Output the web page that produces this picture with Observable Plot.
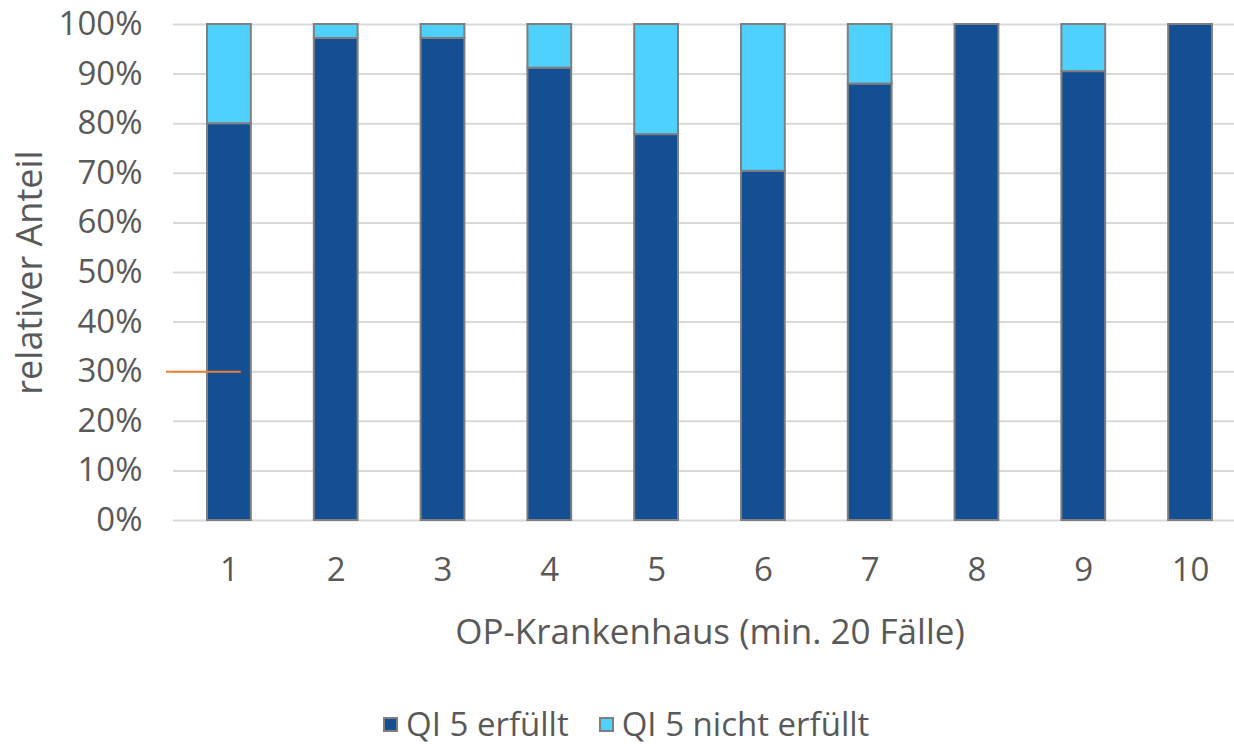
<!DOCTYPE html>
<html>
<head>
<meta charset="utf-8">
<script src="https://cdn.jsdelivr.net/npm/d3@7"></script>
<script src="https://cdn.jsdelivr.net/npm/@observablehq/plot@0.6"></script>
<style>
  body { margin: 0; background: #fff; font-family: "Open Sans", sans-serif; overflow: hidden; }
  #legend { position: absolute; left: 383px; top: 706px; height: 36px; display: flex; align-items: center; font-size: 33px; line-height: 36px; color: #595959; }
  .sw { width: 11px; height: 11px; border: 2px solid #7f7f7f; margin-right: 8px; }
  .item { display: flex; align-items: center; margin-right: 30px; }
</style>
</head>
<body>
<div id="chart"></div>
<div id="legend"></div>
<script>
const hospitals = ["1","2","3","4","5","6","7","8","9","10"];
const erfuellt = [80.0, 97.2, 97.2, 91.2, 77.8, 70.4, 88.0, 100, 90.5, 100];
const nichtErfuellt = erfuellt.map(v => +(100 - v).toFixed(1));
const seriesNames = ["QI 5 erfüllt", "QI 5 nicht erfüllt"];
const seriesColors = ["#144f93", "#4fd1ff"];
const yTicks = [0,10,20,30,40,50,60,70,80,90,100];
const refLine = [{h: "1", y: 30}];

const rows = [];
hospitals.forEach((h, i) => {
  rows.push({h, s: seriesNames[0], v: erfuellt[i]});
  rows.push({h, s: seriesNames[1], v: nichtErfuellt[i]});
});

const textColor = "#595959";
const fs = 33;

const chart = Plot.plot({
  width: 1234,
  height: 700,
  marginLeft: 175,
  marginRight: -10,
  marginTop: 24,
  marginBottom: 180,
  style: {fontFamily: "'Open Sans', sans-serif", fontSize: fs + "px", color: textColor, background: "#fff", overflow: "visible"},
  x: {domain: hospitals, paddingInner: 0.59, paddingOuter: 0.3, round: false},
  y: {domain: [0, 100]},
  color: {domain: seriesNames, range: seriesColors},
  marks: [
    Plot.ruleY(yTicks, {stroke: "#d9d9d9", strokeWidth: 2, insetLeft: -2}),
    Plot.barY(rows, {x: "h", y: "v", fill: "s", stroke: "#7f7f7f", strokeWidth: 2, order: seriesNames}),
    Plot.tickY(refLine, {x: "h", y: "y", stroke: "#ed7d31", strokeWidth: 2, insetLeft: -41, insetRight: 10}),
    Plot.axisY({ticks: yTicks, tickSize: 0, tickPadding: 33, tickFormat: d => d + "%", label: null, fill: textColor, fontSize: fs}),
    Plot.axisX({tickSize: 0, tickPadding: 37, label: null, fill: textColor, fontSize: fs}),
    Plot.text(["OP-Krankenhaus (min. 20 Fälle)"], {frameAnchor: "bottom", dy: 112, fill: textColor, fontSize: 35, lineAnchor: "middle"}),
    Plot.text(["relativer Anteil"], {frameAnchor: "left", dx: -145, rotate: -90, textAnchor: "middle", fill: textColor, fontSize: 36, lineAnchor: "middle"})
  ]
});
document.getElementById("chart").appendChild(chart);

const legend = document.getElementById("legend");
seriesNames.forEach((name, i) => {
  const item = document.createElement("div");
  item.className = "item";
  const sw = document.createElement("div");
  sw.className = "sw";
  sw.style.background = seriesColors[i];
  const t = document.createElement("span");
  t.textContent = name;
  item.appendChild(sw);
  item.appendChild(t);
  legend.appendChild(item);
});
</script>
</body>
</html>
